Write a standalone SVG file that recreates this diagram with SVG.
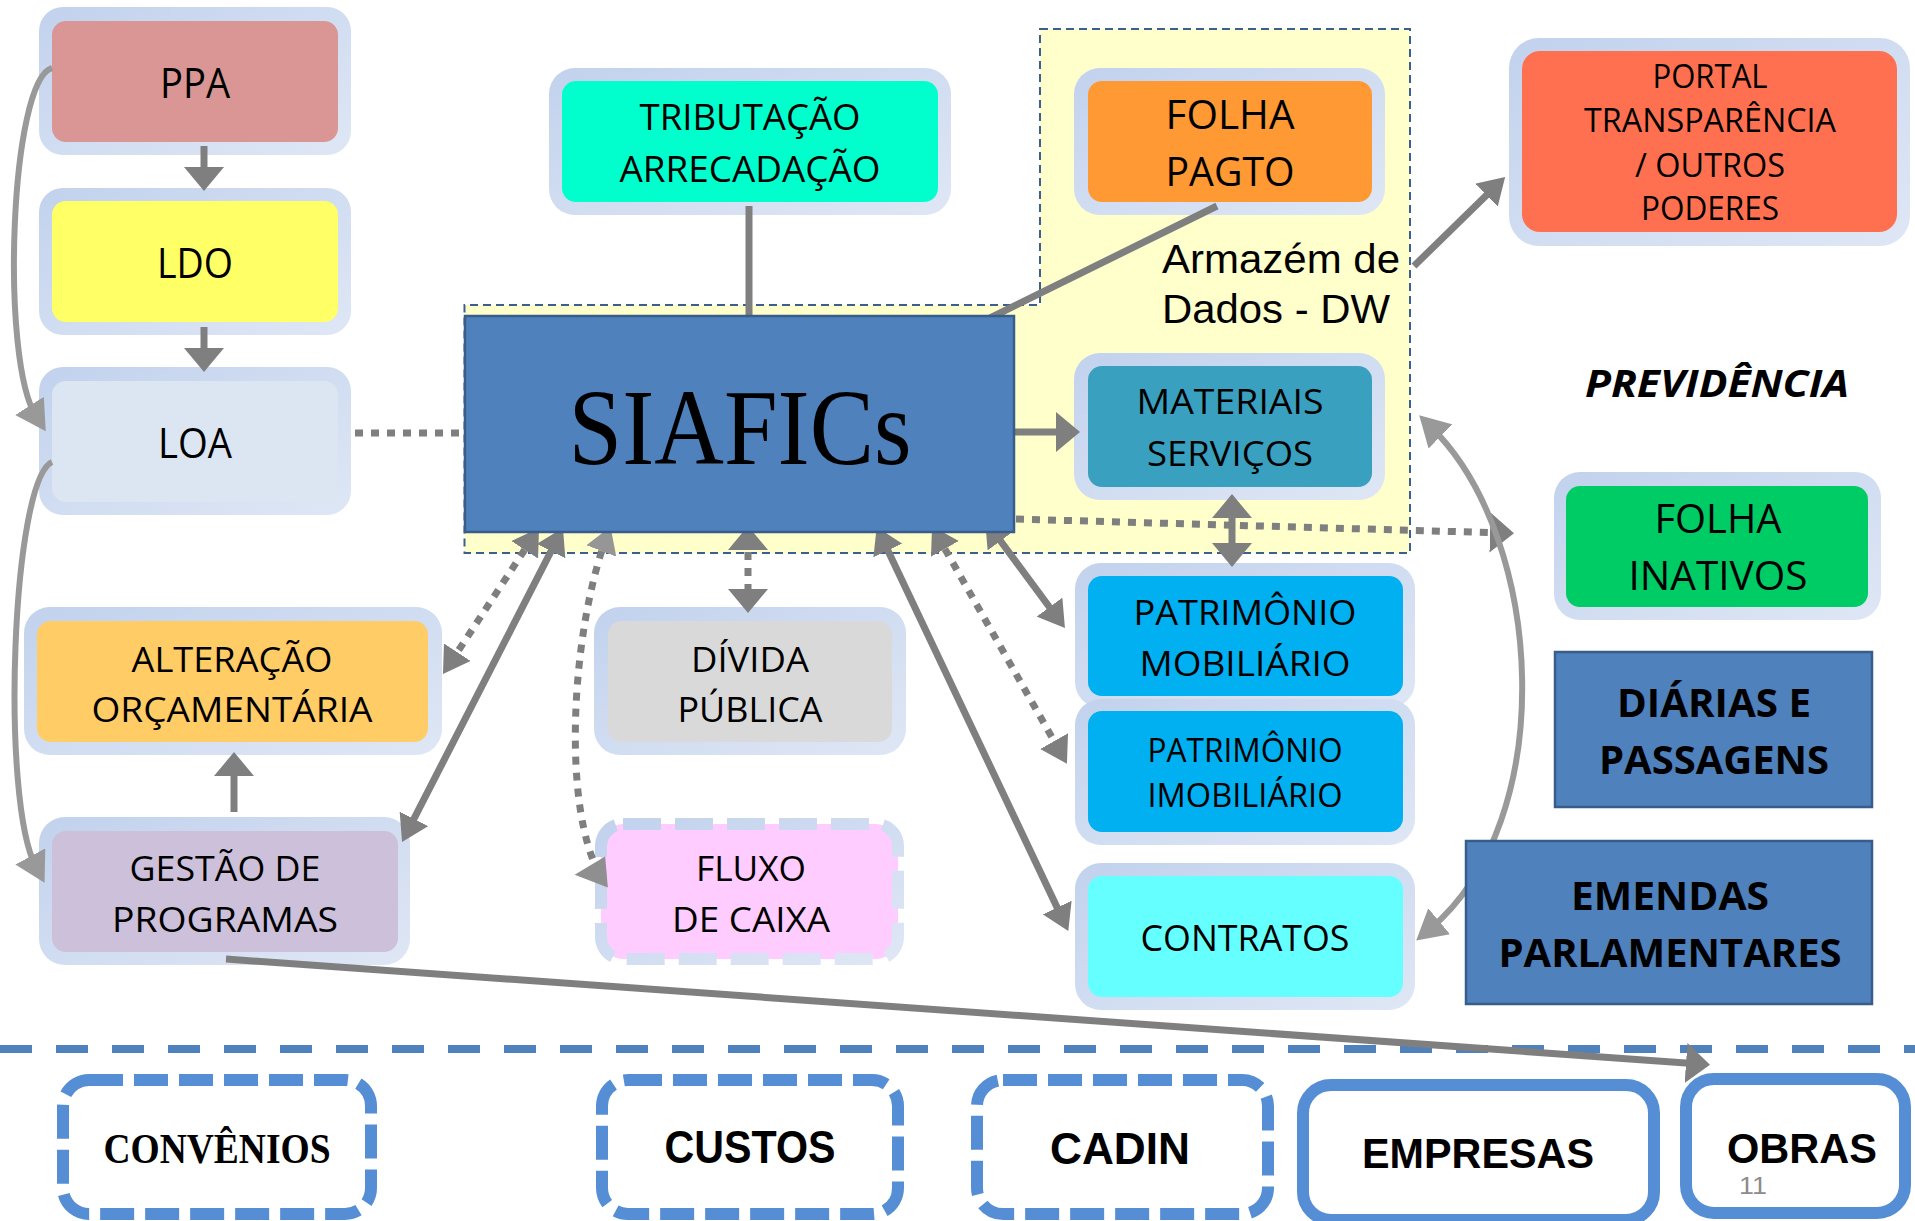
<svg xmlns="http://www.w3.org/2000/svg" width="1915" height="1221" viewBox="0 0 1915 1221">
<style>
.fr{fill:url(#gf)}
.t{font-family:"Open Sans","Liberation Sans",sans-serif;fill:#000;text-anchor:middle}
.b{font-weight:bold}
.c{stroke:#7f7f7f;fill:none;stroke-width:7}
.cl{stroke:#999;fill:none;stroke-width:6}
.dot{stroke-dasharray:8 8}
.bx{fill:#fff;stroke:#558ed5;stroke-width:12}
.bxd{stroke-dasharray:34 11}
</style>
<defs>
<linearGradient id="gf" x1="0" y1="0" x2="1" y2="1"><stop offset="0" stop-color="#c2d2ed"/><stop offset="1" stop-color="#dfe7f5"/></linearGradient>
<marker id="a1" viewBox="0 0 24 40" refX="14" refY="20" markerWidth="24" markerHeight="40" markerUnits="userSpaceOnUse" orient="auto-start-reverse"><path d="M0,0L24,20L0,40z" fill="#7f7f7f"/></marker>
<marker id="a2" viewBox="0 0 26 32" refX="16" refY="16" markerWidth="26" markerHeight="32" markerUnits="userSpaceOnUse" orient="auto-start-reverse"><path d="M0,0L26,16L0,32z" fill="#7f7f7f"/></marker>
<marker id="a2g" viewBox="0 0 26 32" refX="16" refY="16" markerWidth="26" markerHeight="32" markerUnits="userSpaceOnUse" orient="auto-start-reverse"><path d="M0,0L26,16L0,32z" fill="#969696"/></marker>
<marker id="a3" viewBox="0 0 30 34" refX="12" refY="17" markerWidth="30" markerHeight="34" markerUnits="userSpaceOnUse" orient="auto-start-reverse"><path d="M0,0L30,17L0,34z" fill="#999"/></marker>
<marker id="a4" viewBox="0 0 32 31" refX="12.4" refY="28.6" markerWidth="32" markerHeight="31" markerUnits="userSpaceOnUse" orient="175" overflow="visible"><path d="M0,0L32,15.5L0,31z" fill="#8f8f8f"/></marker>
</defs>

<g id="dw-region">
<path d="M1040,29H1410V553H464.5V305H1040Z" fill="#ffffcc" stroke="#3b5f8f" stroke-width="2" stroke-dasharray="8 5"/>
<text x="1162" y="273" font-family="Liberation Sans, Arial, sans-serif" font-size="40" textLength="238" lengthAdjust="spacingAndGlyphs">Armazém de</text>
<text x="1162" y="323" font-family="Liberation Sans, Arial, sans-serif" font-size="40" textLength="228" lengthAdjust="spacingAndGlyphs">Dados - DW</text>
</g>

<path id="separator" d="M0,1049H1915" stroke="#4f81bd" stroke-width="8" stroke-dasharray="32 24" fill="none"/>

<g id="ppa"><rect class="fr" x="39" y="7" width="312" height="148" rx="24"/><rect x="52" y="21" width="286" height="121" rx="14" fill="#d99694"/><text class="t" x="195" y="98" font-size="42" textLength="70" lengthAdjust="spacingAndGlyphs">PPA</text></g>
<g id="ldo"><rect class="fr" x="39" y="188" width="312" height="147" rx="24"/><rect x="52" y="201" width="286" height="121" rx="14" fill="#ffff66"/><text class="t" x="195" y="278" font-size="42" textLength="76" lengthAdjust="spacingAndGlyphs">LDO</text></g>
<g id="loa"><rect class="fr" x="39" y="367" width="312" height="148" rx="24"/><rect x="52" y="381" width="286" height="121" rx="14" fill="#dce6f2"/><text class="t" x="195" y="458" font-size="42" textLength="74" lengthAdjust="spacingAndGlyphs">LOA</text></g>

<g id="tributacao"><rect class="fr" x="549" y="68" width="402" height="147" rx="26"/><rect x="562" y="81" width="376" height="121" rx="14" fill="#00ffcc"/>
<text class="t" x="750" y="130" font-size="37" textLength="221" lengthAdjust="spacingAndGlyphs">TRIBUTAÇÃO</text>
<text class="t" x="750" y="182" font-size="37" textLength="261" lengthAdjust="spacingAndGlyphs">ARRECADAÇÃO</text></g>

<g id="folha-pagto"><rect class="fr" x="1074" y="68" width="311" height="147" rx="26"/><rect x="1088" y="81" width="284" height="121" rx="14" fill="#ff9933"/>
<text class="t" x="1230" y="129" font-size="40" textLength="129" lengthAdjust="spacingAndGlyphs">FOLHA</text>
<text class="t" x="1230" y="186" font-size="40" textLength="129" lengthAdjust="spacingAndGlyphs">PAGTO</text></g>

<g id="materiais"><rect class="fr" x="1074" y="353" width="311" height="147" rx="26"/><rect x="1088" y="366" width="284" height="121" rx="14" fill="#3aa0bf"/>
<text class="t" x="1230" y="414" font-size="35" textLength="187" lengthAdjust="spacingAndGlyphs">MATERIAIS</text>
<text class="t" x="1230" y="466" font-size="35" textLength="166" lengthAdjust="spacingAndGlyphs">SERVIÇOS</text></g>

<g id="portal"><rect class="fr" x="1509" y="38" width="401" height="208" rx="30"/><rect x="1522" y="51" width="375" height="181" rx="18" fill="#ff7050"/>
<text class="t" x="1710" y="88" font-size="33" textLength="115" lengthAdjust="spacingAndGlyphs">PORTAL</text>
<text class="t" x="1710" y="132" font-size="33" textLength="252" lengthAdjust="spacingAndGlyphs">TRANSPARÊNCIA</text>
<text class="t" x="1710" y="177" font-size="33" textLength="150" lengthAdjust="spacingAndGlyphs">/ OUTROS</text>
<text class="t" x="1710" y="220" font-size="33" textLength="138" lengthAdjust="spacingAndGlyphs">PODERES</text></g>

<g id="previdencia"><text class="t b" x="1717" y="397" font-size="38" font-style="italic" textLength="264" lengthAdjust="spacingAndGlyphs">PREVIDÊNCIA</text></g>

<g id="folha-inativos"><rect class="fr" x="1554" y="472" width="327" height="148" rx="26"/><rect x="1566" y="486" width="302" height="121" rx="14" fill="#00cc66"/>
<text class="t" x="1718" y="533" font-size="40" textLength="127" lengthAdjust="spacingAndGlyphs">FOLHA</text>
<text class="t" x="1718" y="590" font-size="40" textLength="179" lengthAdjust="spacingAndGlyphs">INATIVOS</text></g>

<g id="diarias"><rect x="1555" y="652" width="317" height="155" fill="#4f81bd" stroke="#385d8a" stroke-width="2.5"/>
<text class="t b" x="1714" y="717" font-size="40" textLength="194" lengthAdjust="spacingAndGlyphs">DIÁRIAS E</text>
<text class="t b" x="1714" y="774" font-size="40" textLength="230" lengthAdjust="spacingAndGlyphs">PASSAGENS</text></g>

<g id="patrimonio-mobiliario"><rect class="fr" x="1075" y="563" width="340" height="145" rx="26"/><rect x="1088" y="576" width="315" height="120" rx="14" fill="#00b0f0"/>
<text class="t" x="1245" y="625" font-size="35" textLength="223" lengthAdjust="spacingAndGlyphs">PATRIMÔNIO</text>
<text class="t" x="1245" y="676" font-size="35" textLength="211" lengthAdjust="spacingAndGlyphs">MOBILIÁRIO</text></g>

<g id="patrimonio-imobiliario"><rect class="fr" x="1075" y="699" width="340" height="146" rx="26"/><rect x="1088" y="711" width="315" height="121" rx="14" fill="#00b0f0"/>
<text class="t" x="1245" y="762" font-size="32" textLength="195" lengthAdjust="spacingAndGlyphs">PATRIMÔNIO</text>
<text class="t" x="1245" y="807" font-size="32" textLength="195" lengthAdjust="spacingAndGlyphs">IMOBILIÁRIO</text></g>

<g id="contratos"><rect class="fr" x="1075" y="863" width="340" height="147" rx="26"/><rect x="1088" y="876" width="315" height="121" rx="14" fill="#66ffff"/>
<text class="t" x="1245" y="951" font-size="36" textLength="209" lengthAdjust="spacingAndGlyphs">CONTRATOS</text></g>

<g id="alteracao"><rect class="fr" x="24" y="607" width="418" height="148" rx="26"/><rect x="37" y="621" width="391" height="121" rx="14" fill="#ffcc66"/>
<text class="t" x="232" y="672" font-size="35" textLength="201" lengthAdjust="spacingAndGlyphs">ALTERAÇÃO</text>
<text class="t" x="232" y="722" font-size="35" textLength="281" lengthAdjust="spacingAndGlyphs">ORÇAMENTÁRIA</text></g>

<g id="gestao"><rect class="fr" x="39" y="817" width="371" height="148" rx="26"/><rect x="52" y="831" width="346" height="121" rx="14" fill="#ccc0da"/>
<text class="t" x="225" y="881" font-size="35" textLength="191" lengthAdjust="spacingAndGlyphs">GESTÃO DE</text>
<text class="t" x="225" y="932" font-size="35" textLength="226" lengthAdjust="spacingAndGlyphs">PROGRAMAS</text></g>

<g id="divida"><rect class="fr" x="594" y="607" width="312" height="148" rx="26"/><rect x="608" y="621" width="284" height="121" rx="14" fill="#d9d9d9"/>
<text class="t" x="750" y="672" font-size="35" textLength="118" lengthAdjust="spacingAndGlyphs">DÍVIDA</text>
<text class="t" x="750" y="722" font-size="35" textLength="145" lengthAdjust="spacingAndGlyphs">PÚBLICA</text></g>

<g id="fluxo"><rect x="601" y="824" width="297" height="135" rx="22" fill="#ffccff" stroke="url(#gf)" stroke-width="12" stroke-dasharray="38 14"/>
<text class="t" x="751" y="881" font-size="35" textLength="110" lengthAdjust="spacingAndGlyphs">FLUXO</text>
<text class="t" x="751" y="932" font-size="35" textLength="158" lengthAdjust="spacingAndGlyphs">DE CAIXA</text></g>

<g id="convenios"><rect class="bx bxd" x="63" y="1080" width="308" height="134" rx="26"/>
<text x="217" y="1163" font-family="Liberation Serif, serif" font-weight="bold" font-size="42" text-anchor="middle" textLength="227" lengthAdjust="spacingAndGlyphs">CONVÊNIOS</text></g>
<g id="custos"><rect class="bx bxd" x="602" y="1080" width="296" height="134" rx="26"/>
<text x="750" y="1163" font-family="Liberation Sans, Arial, sans-serif" font-weight="bold" font-size="46" text-anchor="middle" textLength="171" lengthAdjust="spacingAndGlyphs">CUSTOS</text></g>
<g id="cadin"><rect class="bx bxd" x="977" y="1080" width="291" height="134" rx="26"/>
<text x="1120" y="1164" font-family="Liberation Sans, Arial, sans-serif" font-weight="bold" font-size="45" text-anchor="middle" textLength="140" lengthAdjust="spacingAndGlyphs">CADIN</text></g>
<g id="empresas"><rect class="bx" x="1303" y="1085" width="351" height="135" rx="28" stroke-width="13"/>
<text x="1478" y="1168" font-family="Liberation Sans, Arial, sans-serif" font-weight="bold" font-size="43" text-anchor="middle" textLength="232" lengthAdjust="spacingAndGlyphs">EMPRESAS</text></g>
<g id="obras"><rect class="bx" x="1686" y="1079" width="219" height="134" rx="28" stroke-width="13"/>
<text x="1802" y="1163" font-family="Liberation Sans, Arial, sans-serif" font-weight="bold" font-size="43" text-anchor="middle" textLength="150" lengthAdjust="spacingAndGlyphs">OBRAS</text>
<text x="1753" y="1194" font-family="Liberation Sans, Arial, sans-serif" font-size="24" fill="#8c8c8c" text-anchor="middle" textLength="28" lengthAdjust="spacingAndGlyphs">11</text></g>

<g id="connectors">
<path class="c" d="M204,146V181" stroke-width="8" marker-end="url(#a1)"/>
<path class="c" d="M204,327V362" stroke-width="8" marker-end="url(#a1)"/>
<path class="c" d="M234,812V762" stroke-width="8" marker-end="url(#a1)"/>
<path class="c dot" d="M355,433H463" stroke-width="8"/>
<path class="c" d="M749,206V320"/>
<path class="c" d="M1217,206L990,318"/>
<path class="c" d="M1014,432H1070" marker-end="url(#a1)"/>
<path class="c" d="M1414,266L1498,184" marker-end="url(#a2)"/>
<path class="c" d="M1232,504V557" marker-start="url(#a1)" marker-end="url(#a1)"/>
<path class="c" d="M991,528L1059,620" marker-start="url(#a2)" marker-end="url(#a2)"/>
<path class="c dot" d="M937,535L1062,755" marker-start="url(#a2)" marker-end="url(#a2)"/>
<path class="c" d="M881,536L1064,922" marker-start="url(#a2)" marker-end="url(#a2)"/>
<path class="c dot" d="M748,536V603" marker-start="url(#a1)" marker-end="url(#a1)"/>
<path class="c dot" d="M533.5,536.4L448.5,665.6" marker-start="url(#a2)" marker-end="url(#a2)"/>
<path class="c" d="M558.4,536.9L406.6,833.1" marker-start="url(#a2)" marker-end="url(#a2)"/>
<path class="c dot" d="M607,536C575,620 562,780 593,860" stroke="#8f8f8f" marker-start="url(#a2g)" marker-end="url(#a4)"/>
<path class="c dot" d="M1016,519L1504,533" marker-end="url(#a1)"/>
<path class="cl" d="M1432,428C1545,540 1560,820 1430,929" marker-start="url(#a3)" marker-end="url(#a3)"/>
<path class="cl" d="M52,68C10,80 0,360 36,416" marker-end="url(#a3)"/>
<path class="cl" d="M52,462C12,480 0,800 36,867" marker-end="url(#a3)"/>
<path class="c" d="M226,959L1700,1064" marker-end="url(#a1)"/>
</g>

<g id="siafics"><rect x="465" y="316" width="549" height="216" fill="#4f81bd" stroke="#385d8a" stroke-width="2.5"/>
<text x="740" y="464" font-family="Liberation Serif, serif" font-size="108" text-anchor="middle" textLength="343" lengthAdjust="spacingAndGlyphs">SIAFICs</text></g>

<g id="emendas"><rect x="1466" y="841" width="406" height="163" fill="#4f81bd" stroke="#385d8a" stroke-width="2.5"/>
<text class="t b" x="1670" y="910" font-size="40" textLength="198" lengthAdjust="spacingAndGlyphs">EMENDAS</text>
<text class="t b" x="1670" y="967" font-size="40" textLength="343" lengthAdjust="spacingAndGlyphs">PARLAMENTARES</text></g>
</svg>
